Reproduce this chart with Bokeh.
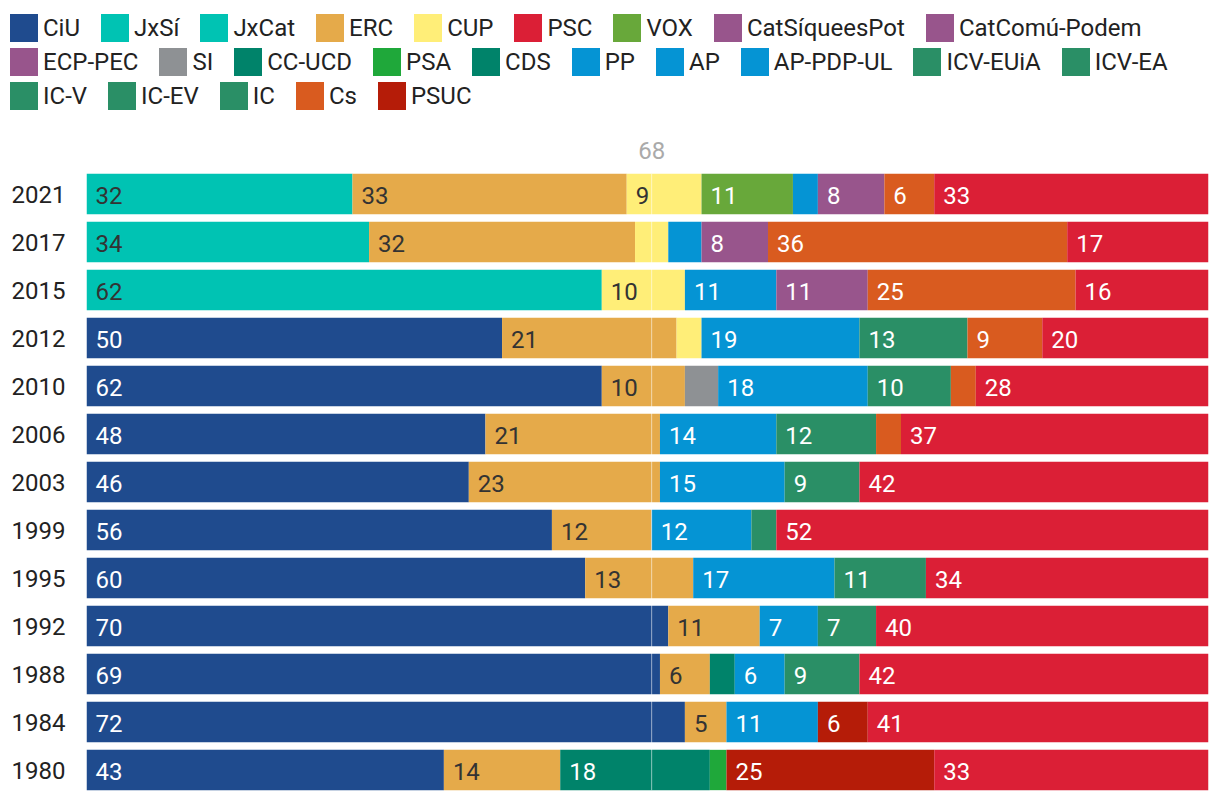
from bokeh.plotting import figure
from bokeh.models import ColumnDataSource, Legend, LegendItem, FixedTicker, Range1d
from bokeh.core.properties import value
from bokeh.embed import file_html
from bokeh.resources import INLINE

# ---- data (seats, Parlament de Catalunya) ----
years = ["2021", "2017", "2015", "2012", "2010", "2006", "2003", "1999", "1995", "1992", "1988", "1984", "1980"]

CiU           = [0, 0, 0, 50, 62, 48, 46, 56, 60, 70, 69, 72, 43]
JxSi          = [0, 0, 62, 0, 0, 0, 0, 0, 0, 0, 0, 0, 0]
JxCat         = [32, 34, 0, 0, 0, 0, 0, 0, 0, 0, 0, 0, 0]
ERC           = [33, 32, 0, 21, 10, 21, 23, 12, 13, 11, 6, 5, 14]
CUP           = [9, 4, 10, 3, 0, 0, 0, 0, 0, 0, 0, 0, 0]
SI            = [0, 0, 0, 0, 4, 0, 0, 0, 0, 0, 0, 0, 0]
CC_UCD        = [0, 0, 0, 0, 0, 0, 0, 0, 0, 0, 0, 0, 18]
PSA           = [0, 0, 0, 0, 0, 0, 0, 0, 0, 0, 0, 0, 2]
CDS           = [0, 0, 0, 0, 0, 0, 0, 0, 0, 0, 3, 0, 0]
VOX           = [11, 0, 0, 0, 0, 0, 0, 0, 0, 0, 0, 0, 0]
PP            = [3, 4, 11, 19, 18, 14, 15, 12, 17, 7, 0, 0, 0]
AP            = [0, 0, 0, 0, 0, 0, 0, 0, 0, 0, 6, 0, 0]
AP_PDP_UL     = [0, 0, 0, 0, 0, 0, 0, 0, 0, 0, 0, 11, 0]
CatSiqueesPot = [0, 0, 11, 0, 0, 0, 0, 0, 0, 0, 0, 0, 0]
CatComu_Podem = [0, 8, 0, 0, 0, 0, 0, 0, 0, 0, 0, 0, 0]
ECP_PEC       = [8, 0, 0, 0, 0, 0, 0, 0, 0, 0, 0, 0, 0]
ICV_EUiA      = [0, 0, 0, 13, 10, 12, 0, 0, 0, 0, 0, 0, 0]
ICV_EA        = [0, 0, 0, 0, 0, 0, 9, 0, 0, 0, 0, 0, 0]
IC_V          = [0, 0, 0, 0, 0, 0, 0, 3, 0, 0, 0, 0, 0]
IC_EV         = [0, 0, 0, 0, 0, 0, 0, 0, 11, 0, 0, 0, 0]
IC            = [0, 0, 0, 0, 0, 0, 0, 0, 0, 7, 9, 0, 0]
Cs            = [6, 36, 25, 9, 3, 3, 0, 0, 0, 0, 0, 0, 0]
PSUC          = [0, 0, 0, 0, 0, 0, 0, 0, 0, 0, 0, 6, 25]
PSC           = [33, 17, 16, 20, 28, 37, 42, 52, 34, 40, 42, 41, 33]

# stacking order (left to right)
stack_names = ["CiU", "JxSí", "JxCat", "ERC", "CUP", "SI", "CC-UCD", "PSA", "CDS", "VOX",
               "PP", "AP", "AP-PDP-UL", "CatSíqueesPot", "CatComú-Podem", "ECP-PEC",
               "ICV-EUiA", "ICV-EA", "IC-V", "IC-EV", "IC", "Cs", "PSUC", "PSC"]
stack_values = [CiU, JxSi, JxCat, ERC, CUP, SI, CC_UCD, PSA, CDS, VOX,
                PP, AP, AP_PDP_UL, CatSiqueesPot, CatComu_Podem, ECP_PEC,
                ICV_EUiA, ICV_EA, IC_V, IC_EV, IC, Cs, PSUC, PSC]
party_colors = {
    "CiU": "#1F4B8E", "JxSí": "#00C3B3", "JxCat": "#00C3B3", "ERC": "#E5AA4A",
    "CUP": "#FFEE78", "PSC": "#DB1F36", "VOX": "#68A83A", "CatSíqueesPot": "#98558C",
    "CatComú-Podem": "#98558C", "ECP-PEC": "#98558C", "SI": "#8E9194", "CC-UCD": "#00836A",
    "PSA": "#1FA83A", "CDS": "#00836A", "PP": "#0594D4", "AP": "#0594D4",
    "AP-PDP-UL": "#0594D4", "ICV-EUiA": "#2A8F66", "ICV-EA": "#2A8F66", "IC-V": "#2A8F66",
    "IC-EV": "#2A8F66", "IC": "#2A8F66", "Cs": "#D95B1F", "PSUC": "#B51C08",
}
dark_label_parties = ["JxSí", "JxCat", "ERC", "CUP"]

legend_rows = [
    ["CiU", "JxSí", "JxCat", "ERC", "CUP", "PSC", "VOX", "CatSíqueesPot", "CatComú-Podem"],
    ["ECP-PEC", "SI", "CC-UCD", "PSA", "CDS", "PP", "AP", "AP-PDP-UL", "ICV-EUiA", "ICV-EA"],
    ["IC-V", "IC-EV", "IC", "Cs", "PSUC"],
]

total_seats = sum(col[0] for col in stack_values)
majority = total_seats // 2 + 1
min_label = 5

FONT = "Roboto"
FS = "24px"
W = 1212

# ---------------- legend figure (own root, full-width frame) ----------------
LEG_H = 120
lp = figure(width=W, height=LEG_H, output_backend="svg", toolbar_location=None,
            x_range=Range1d(0, 1), y_range=Range1d(0, 1),
            x_axis_location=None, y_axis_location=None,
            min_border_left=0, min_border_right=0, min_border_top=0, min_border_bottom=0)
lp.outline_line_color = None
lp.grid.visible = False
# swatch renderers for the legend: a single bar placed outside the visible range
swatch_src = ColumnDataSource(dict(y=[-5], left=[0], right=[1]))
leg_r = {}
for nm in stack_names:
    leg_r[nm] = lp.hbar(y="y", left="left", right="right", height=0.5, source=swatch_src,
                        fill_color=party_colors[nm], line_color=None)

row_bottoms = [75, 41, 7]
for row, vy in zip(legend_rows, row_bottoms):
    items = [LegendItem(label=nm, renderers=[leg_r[nm]]) for nm in row]
    lg = Legend(items=items, orientation="horizontal", location=(6, vy),
                glyph_width=35, glyph_height=35, label_standoff=2, spacing=17,
                padding=0, margin=0, border_line_color=None, background_fill_alpha=0,
                label_text_font=FONT, label_text_font_size=FS, label_text_color="#222222",
                label_height=28)
    lp.add_layout(lg, "center")

# ---------------- bar figure ----------------
n = len(years)
ypos = [n - 1 - i for i in range(n)]

data = {"y": ypos}
for name, vals in zip(stack_names, stack_values):
    data[name] = vals
src = ColumnDataSource(data)

lx, ly, lt, lc = [], [], [], []
for i in range(n):
    cum = 0
    for name, vals in zip(stack_names, stack_values):
        v = vals[i]
        if v >= min_label:
            lx.append(cum)
            ly.append(ypos[i])
            lt.append(str(v))
            lc.append("#333333" if name in dark_label_parties else "#FFFFFF")
        cum += v
lsrc = ColumnDataSource(dict(x=lx, y=ly, t=lt, c=lc))

row_px = 48.0
MAIN_H = 676
top_px = 73.5
y_end = (n - 1) + top_px / row_px
y_start = y_end - MAIN_H / row_px

p = figure(width=W, height=MAIN_H, output_backend="svg", toolbar_location=None,
           x_range=Range1d(0, total_seats), y_range=Range1d(y_start, y_end),
           x_axis_location=None, min_border_left=86, min_border_right=4,
           min_border_top=0, min_border_bottom=0)
p.outline_line_color = None
p.grid.visible = False

p.hbar_stack(stack_names, y="y", height=0.84, source=src,
             fill_color=[party_colors[nm] for nm in stack_names],
             line_color=None)

p.text(x="x", y="y", text="t", text_color="c", source=lsrc, x_offset=9, y_offset=1,
       text_baseline="middle", text_align="left",
       text_font=value(FONT), text_font_size=FS)

# majority line and label
p.segment(x0=[majority], y0=[-0.42], x1=[majority], y1=[n - 1 + 0.42],
          line_color="white", line_alpha=0.55, line_width=1)
p.text(x=[majority], y=[n - 1 + 44.0 / row_px], text=[str(majority)], text_color="#AAAAAA",
       text_align="center", text_baseline="middle",
       text_font=value(FONT), text_font_size=FS)

yax = p.yaxis[0]
yax.ticker = FixedTicker(ticks=ypos)
yax.major_label_overrides = {y: yr for y, yr in zip(ypos, years)}
yax.axis_line_color = None
yax.major_tick_line_color = None
yax.minor_tick_line_color = None
yax.major_tick_out = 0
yax.major_tick_in = 0
yax.major_label_standoff = 21
yax.major_label_text_font = FONT
yax.major_label_text_font_size = FS
yax.major_label_text_color = "#222222"

open("out.html", "w").write(file_html([lp, p], INLINE))
